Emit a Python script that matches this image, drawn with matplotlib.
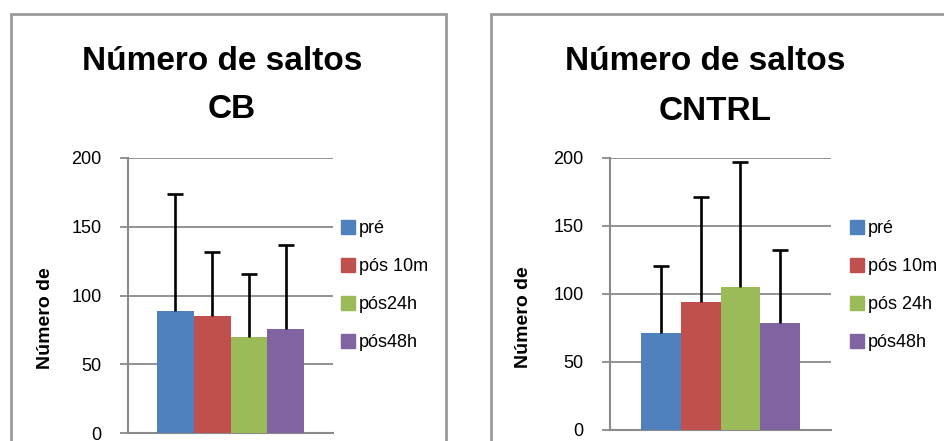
import numpy as np
import matplotlib.pyplot as plt
from matplotlib.patches import Rectangle

plt.rcParams['font.family'] = ['Liberation Sans', 'DejaVu Sans']

# dados
series = ['pré', 'pós 10m', 'pós24h', 'pós48h']
series_cntrl = ['pré', 'pós 10m', 'pós 24h', 'pós48h']
cores = ['#4F81BD', '#C0504D', '#9BBB59', '#8064A2']

cb_media = [89, 85, 70, 75.5]
cb_erro = [85, 46.5, 46, 61.5]

cntrl_media = [71, 94, 105.5, 79]
cntrl_erro = [49.5, 77, 91.5, 53]

yticks = [0, 50, 100, 150, 200]

W, H = 944, 441
fig = plt.figure(figsize=(W / 100, H / 100), dpi=100)


def px(x, y):
    # pixel (topo-esquerda) -> coordenadas da figura
    return x / W, 1 - y / H


def painel(ax, medias, erros, nomes, leg_xy):
    pos = np.arange(len(medias)) - 1.5
    ax.bar(pos, medias, width=1.0, color=cores, label=nomes, zorder=3)
    eb = ax.errorbar(pos, medias, yerr=[np.zeros(len(erros)), erros], fmt='none',
                     ecolor='black', elinewidth=1.9, capsize=5.5, capthick=1.9, zorder=4)
    # só a barra de erro superior tem traço
    eb[1][0].set_visible(False)
    ax.set_xlim(-2.78, 2.78)
    ax.set_ylim(0, 200)
    ax.set_yticks(yticks)
    ax.set_xticks([])
    ax.grid(axis='y', color='#8a8a8a', linewidth=1.3, zorder=0)
    for s in ['top', 'right']:
        ax.spines[s].set_visible(False)
    for s in ['left', 'bottom']:
        ax.spines[s].set_color('#8a8a8a')
        ax.spines[s].set_linewidth(1.5)
    ax.tick_params(axis='y', length=6, width=1.3, color='#8a8a8a',
                   labelsize=13, pad=13)
    ax.set_facecolor('white')
    handles = [Rectangle((0, 0), 1, 1, color=c) for c in cores]
    fig.legend(handles, nomes, loc='upper left', bbox_to_anchor=px(*leg_xy),
               frameon=False, fontsize=13, handlelength=0.8, handleheight=0.8,
               handletextpad=0.2, labelspacing=1.15, borderpad=0, borderaxespad=0)


# molduras
fig.patches.append(Rectangle(px(11, 470), 435 / W, 456 / H, transform=fig.transFigure,
                             fill=False, edgecolor='#9a9a9a', linewidth=2))
fig.patches.append(Rectangle(px(491, 470), 500 / W, 456 / H, transform=fig.transFigure,
                             fill=False, edgecolor='#9a9a9a', linewidth=2))

# painel CB
ax1 = fig.add_axes([128 / W, (H - 433) / H, 205 / W, 275 / H])
painel(ax1, cb_media, cb_erro, series, (341, 220))
fig.text(*px(222, 70), 'Número de saltos', ha='center', va='baseline',
         fontsize=24, fontweight='bold')
fig.text(*px(232, 118), 'CB', ha='center', va='baseline',
         fontsize=24, fontweight='bold')
fig.text(*px(45, 318), 'Número de', rotation=90, ha='center', va='center',
         fontsize=14, fontweight='bold')

# painel CNTRL
ax2 = fig.add_axes([610 / W, (H - 430) / H, 221 / W, 272 / H])
painel(ax2, cntrl_media, cntrl_erro, series_cntrl, (850, 220))
fig.text(*px(705, 70), 'Número de saltos', ha='center', va='baseline',
         fontsize=24, fontweight='bold')
fig.text(*px(715, 120), 'CNTRL', ha='center', va='baseline',
         fontsize=24, fontweight='bold')
fig.text(*px(523, 317), 'Número de', rotation=90, ha='center', va='center',
         fontsize=14, fontweight='bold')

fig.savefig('out.png', dpi=100, facecolor='white')
